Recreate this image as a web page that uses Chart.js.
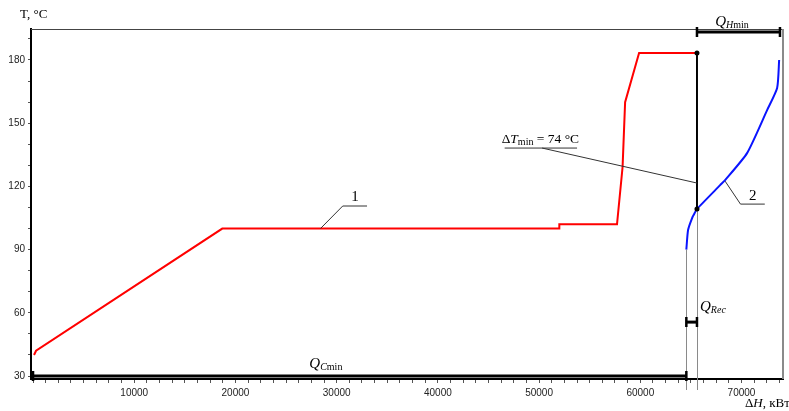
<!DOCTYPE html>
<html>
<head>
<meta charset="utf-8">
<script src="https://cdn.jsdelivr.net/npm/chart.js@4.4.1/dist/chart.umd.min.js"></script>
<style>
  body { margin: 0; background: #fff; }
  #wrap { width: 789px; height: 411px; }
</style>
</head>
<body>
<div id="wrap"><canvas id="pinchChart" width="789" height="411"></canvas></div>
<script>
// curve 1 (red) and curve 2 (blue), ΔH in kW, T in °C
const curve1H = [100, 300, 18700, 52000, 52000, 57700, 58250, 58500, 59880, 65600];
const curve1T = [40.0, 42.0, 100, 100, 102, 102, 129.2, 160, 183.3, 183.3];
const curve2H = [64550, 64720, 65120, 65420, 65600, 67890, 68380, 70550, 72530, 73520, 73720];
const curve2T = [90, 99.3, 105, 107.8, 109.3, 120.6, 123, 135.8, 156.2, 166.7, 180];

// pinch point and recovery limits
const pinchH = 65600;
const pinchT = [183.3, 109.3];
const recStartH = 64550;
const hotEndH = 73800;

// brackets: [fromH, toH, T]
const bracketCmin = [0, recStartH, 30];
const bracketRec = [recStartH, pinchH, 55.6];
const bracketHmin = [pinchH, hotEndH, 193.3];

// leader lines (ΔH, T)
const leader1H = [28400, 30600, 33000];
const leader1T = [100, 110.7, 110.7];
const leader2H = [68380, 69900, 72300];
const leader2T = [122.5, 111.6, 111.6];
const leaderDtH = [46600, 53750, 50300, 65600];
const leaderDtT = [138.2, 138.2, 138.2, 121.6];

const xTickLabels = [10000, 20000, 30000, 40000, 50000, 60000, 70000];
const yTickLabels = [30, 60, 90, 120, 150, 180];

function pts(xs, ys) {
    return xs.map((x, i) => ({ x: x, y: ys[i] }));
}

const serif = '"Liberation Serif", "Times New Roman", serif';

// draws Q with subscript pieces [[text, italic], ...]
function drawQ(ctx, x, yMid, parts) {
    ctx.textBaseline = 'middle';
    ctx.textAlign = 'left';
    ctx.font = 'italic 15px ' + serif;
    ctx.fillText('Q', x, yMid);
    let cx = x + ctx.measureText('Q').width;
    parts.forEach(p => {
        ctx.font = (p[1] ? 'italic ' : '') + '10px ' + serif;
        ctx.fillText(p[0], cx, yMid + 3);
        cx += ctx.measureText(p[0]).width;
    });
}

const overlay = {
    id: 'overlay',
    afterDatasetsDraw(chart) {
        const ctx = chart.ctx;
        const xs = chart.scales.x, ys = chart.scales.y;
        const area = chart.chartArea;
        const px = v => xs.getPixelForValue(v);
        const py = v => ys.getPixelForValue(v);
        ctx.save();

        // frame top / right
        ctx.strokeStyle = '#444';
        ctx.lineWidth = 1;
        ctx.beginPath();
        ctx.moveTo(area.left, area.top + 0.5);
        ctx.lineTo(area.right, area.top + 0.5);
        ctx.stroke();
        ctx.strokeStyle = '#8a8a8a';
        ctx.lineWidth = 2;
        ctx.beginPath();
        ctx.moveTo(area.right, area.top);
        ctx.lineTo(area.right, area.bottom);
        ctx.stroke();

        // thin vertical guides
        ctx.strokeStyle = '#8a8a8a';
        ctx.lineWidth = 1;
        ctx.beginPath();
        ctx.moveTo(Math.round(px(recStartH)) + 0.5, py(curve2T[0]));
        ctx.lineTo(Math.round(px(recStartH)) + 0.5, area.bottom + 11);
        ctx.moveTo(Math.round(px(pinchH)) + 0.5, py(pinchT[1]));
        ctx.lineTo(Math.round(px(pinchH)) + 0.5, area.bottom + 11);
        ctx.stroke();

        // pinch line
        ctx.strokeStyle = '#000';
        ctx.lineWidth = 2;
        ctx.beginPath();
        ctx.moveTo(px(pinchH), py(pinchT[0]));
        ctx.lineTo(px(pinchH), py(pinchT[1]));
        ctx.stroke();
        ctx.fillStyle = '#000';
        pinchT.forEach(t => {
            ctx.beginPath();
            ctx.arc(px(pinchH), py(t), 2.5, 0, Math.PI * 2);
            ctx.fill();
        });

        // brackets
        [bracketCmin, bracketRec, bracketHmin].forEach(b => {
            const x1 = px(b[0]), x2 = px(b[1]), y = py(b[2]);
            ctx.strokeStyle = '#000';
            ctx.lineWidth = 3;
            ctx.beginPath();
            ctx.moveTo(x1, y);
            ctx.lineTo(x2, y);
            ctx.stroke();
            ctx.lineWidth = 2.5;
            ctx.beginPath();
            ctx.moveTo(x1, y - 5);
            ctx.lineTo(x1, y + 5);
            ctx.moveTo(x2, y - 5);
            ctx.lineTo(x2, y + 5);
            ctx.stroke();
        });

        // leader lines
        ctx.strokeStyle = '#333';
        ctx.lineWidth = 1;
        [[leader1H, leader1T], [leader2H, leader2T]].forEach(l => {
            ctx.beginPath();
            l[0].forEach((h, i) => {
                const x = px(h), y = py(l[1][i]);
                if (i === 0) ctx.moveTo(x, y); else ctx.lineTo(x, y);
            });
            ctx.stroke();
        });
        ctx.beginPath();
        ctx.moveTo(px(leaderDtH[0]), py(leaderDtT[0]));
        ctx.lineTo(px(leaderDtH[1]), py(leaderDtT[1]));
        ctx.moveTo(px(leaderDtH[2]), py(leaderDtT[2]));
        ctx.lineTo(px(leaderDtH[3]), py(leaderDtT[3]));
        ctx.stroke();

        // labels
        ctx.fillStyle = '#000';
        ctx.textBaseline = 'bottom';
        ctx.textAlign = 'center';
        ctx.font = '15px ' + serif;
        ctx.fillText('1', (px(leader1H[1]) + px(leader1H[2])) / 2, py(leader1T[1]) - 1);
        ctx.fillText('2', (px(leader2H[1]) + px(leader2H[2])) / 2, py(leader2T[1]) - 1);

        // ΔTmin = 74 °C
        let x = px(leaderDtH[0]) - 3;
        const yMid = py(leaderDtT[0]) - 9;
        ctx.textAlign = 'left';
        ctx.textBaseline = 'middle';
        ctx.font = '13.5px ' + serif;
        ctx.fillText('Δ', x, yMid);
        x += ctx.measureText('Δ').width;
        ctx.font = 'italic 13.5px ' + serif;
        ctx.fillText('T', x, yMid);
        x += ctx.measureText('T').width;
        ctx.font = '10px ' + serif;
        ctx.fillText('min', x, yMid + 3);
        x += ctx.measureText('min').width;
        ctx.font = '13.5px ' + serif;
        ctx.fillText(' = 74 °C', x, yMid);

        drawQ(ctx, px(27300), py(bracketCmin[2]) - 12, [['C', true], ['min', false]]);
        drawQ(ctx, px(65900), py(62.7), [['Rec', true]]);
        drawQ(ctx, px(67400), py(bracketHmin[2]) - 10, [['H', true], ['min', false]]);

        // axis titles
        ctx.font = '13px ' + serif;
        ctx.textBaseline = 'middle';
        ctx.fillText('T, °C', 20, 15);
        x = 745;
        ctx.fillText('Δ', x, 404);
        x += ctx.measureText('Δ').width;
        ctx.font = 'italic 13px ' + serif;
        ctx.fillText('H', x, 404);
        x += ctx.measureText('H').width;
        ctx.font = '13px ' + serif;
        ctx.fillText(', кВт', x, 404);

        ctx.restore();
    }
};

const xTickValues = [];
for (let v = 0; v <= 73750; v += 1250) xTickValues.push(v);
const yTickValues = [];
for (let v = 30; v <= 190; v += 10) yTickValues.push(v);

const tickFont = { family: '"Liberation Sans", Arial, sans-serif', size: 10 };

new Chart(document.getElementById('pinchChart').getContext('2d'), {
    type: 'line',
    data: {
        datasets: [{
            label: '1',
            data: pts(curve1H, curve1T),
            borderColor: '#ff0000',
            borderWidth: 2,
            pointRadius: 0,
            tension: 0
        }, {
            label: '2',
            data: pts(curve2H, curve2T),
            borderColor: '#0a14ff',
            borderWidth: 2,
            pointRadius: 0,
            tension: 0.2
        }]
    },
    options: {
        responsive: false,
        animation: false,
        layout: { padding: { top: 29, right: 6, left: 0, bottom: 0 } },
        plugins: { legend: { display: false }, tooltip: { enabled: false } },
        scales: {
            x: {
                type: 'linear',
                min: -200,
                max: 74100,
                afterBuildTicks: s => { s.ticks = xTickValues.map(v => ({ value: v })); },
                afterFit: s => { s.height = 32; },
                ticks: {
                    autoSkip: false,
                    maxRotation: 0,
                    padding: 4,
                    color: '#222',
                    font: tickFont,
                    callback: v => xTickLabels.includes(v) ? String(v) : ''
                },
                grid: { drawOnChartArea: false, tickLength: 4, color: '#555' },
                border: { color: '#000', width: 2 }
            },
            y: {
                type: 'linear',
                min: 28.6,
                max: 194.7,
                afterBuildTicks: s => { s.ticks = yTickValues.map(v => ({ value: v })); },
                afterFit: s => { s.width = 31; },
                ticks: {
                    autoSkip: false,
                    padding: 3,
                    color: '#222',
                    font: tickFont,
                    callback: v => yTickLabels.includes(v) ? String(v) : ''
                },
                grid: { drawOnChartArea: false, tickLength: 3, color: '#555' },
                border: { color: '#000', width: 2 }
            }
        }
    },
    plugins: [overlay]
});
</script>
</body>
</html>
